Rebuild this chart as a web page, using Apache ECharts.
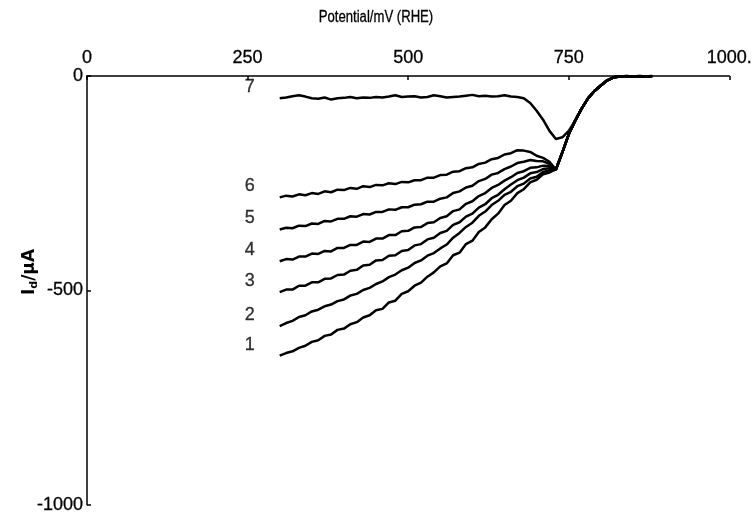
<!DOCTYPE html>
<html>
<head>
<meta charset="utf-8">
<script src="https://cdn.jsdelivr.net/npm/echarts@6/dist/echarts.min.js"></script>
<style>
  html, body { margin: 0; padding: 0; background: #fff; }
  #chart { width: 755px; height: 514px; }
</style>
</head>
<body>
<div id="chart"></div>
<script>
// Potential sweep (mV vs RHE) up to the point where the curves merge
const potentials = [300, 310, 320, 330, 340, 350, 360, 370, 380, 390,
  400, 410, 420, 430, 440, 450, 460, 470, 480, 490,
  500, 510, 520, 530, 540, 550, 560, 570, 580, 590,
  600, 610, 620, 630, 640, 650, 660, 670, 680, 690,
  700, 710, 720];

// Shared anodic branch after the curves merge
const tailPotentials = [730, 740, 750, 760, 770, 780, 790, 800, 810, 820, 830, 840, 850, 860, 870, 880];
const tailCurrent = [-218, -178, -136, -104, -76, -52, -35, -22, -10, -3, -1, 0, -1, 0, -1, 0];

// Disk current I_d (µA), curves 1..6
const curve1 = [-652, -646, -642, -634, -629, -620, -616, -606, -603, -592,
  -589, -579, -574, -563, -558, -546, -543, -528, -524, -508,
  -502, -489, -482, -468, -458, -444, -437, -418, -412, -392,
  -384, -364, -353, -334, -321, -301, -291, -273, -264, -248,
  -242, -229, -225];
const curve2 = [-583, -576, -571, -562, -558, -549, -545, -537, -533, -525,
  -521, -512, -508, -499, -494, -485, -479, -469, -463, -453,
  -447, -436, -430, -419, -413, -402, -393, -377, -366, -352,
  -342, -326, -316, -301, -291, -277, -270, -257, -251, -239,
  -235, -224, -220];
const curve3 = [-504, -498, -498, -489, -489, -481, -481, -473, -472, -464,
  -463, -454, -452, -442, -440, -430, -429, -419, -418, -408,
  -406, -395, -392, -381, -377, -366, -361, -347, -341, -328,
  -321, -307, -299, -285, -277, -264, -253, -243, -237, -227,
  -224, -217, -215];
const curve4 = [-432, -427, -428, -421, -421, -414, -415, -408, -409, -401,
  -401, -394, -394, -386, -387, -379, -379, -371, -371, -362,
  -361, -353, -352, -343, -341, -331, -327, -315, -311, -298,
  -292, -280, -273, -261, -254, -244, -236, -226, -222, -214,
  -213, -209, -210];
const curve5 = [-358, -354, -355, -349, -350, -344, -345, -338, -339, -333,
  -333, -327, -328, -322, -323, -317, -317, -311, -312, -306,
  -306, -300, -299, -293, -293, -286, -283, -273, -269, -260,
  -256, -245, -240, -230, -226, -217, -211, -203, -200, -196,
  -198, -199, -205];
const curve6 = [-283, -279, -281, -276, -278, -273, -275, -269, -271, -265,
  -266, -261, -263, -257, -259, -254, -255, -250, -252, -247,
  -248, -243, -243, -237, -237, -231, -230, -223, -222, -215,
  -213, -205, -202, -194, -191, -183, -180, -173, -174, -177,
  -186, -191, -200];
// Curve 7 with its reduction dip before joining the shared branch
const curve7 = [-52, -50, -47, -45, -48, -52, -53, -50, -55, -52,
  -51, -49, -52, -50, -51, -49, -50, -48, -45, -49,
  -48, -47, -50, -49, -45, -47, -50, -49, -48, -46,
  -44, -47, -46, -48, -47, -45, -48, -49, -52, -63,
  -81, -102, -128];
const curve7TailHead = [-147, -143, -128];

const curveNames = ['1', '2', '3', '4', '5', '6', '7'];
const xTicks = ['0', '250', '500', '750', '1000.'];

function buildPoints(values, tailHead) {
  const pts = potentials.map((p, i) => [p, values[i]]);
  tailPotentials.forEach((p, i) => {
    const v = (tailHead && i < tailHead.length) ? tailHead[i] : tailCurrent[i];
    pts.push([p, v]);
  });
  return pts;
}

const allCurves = [curve1, curve2, curve3, curve4, curve5, curve6, curve7];
const font = 'Liberation Sans';

const series = allCurves.map((vals, k) => ({
  name: curveNames[k],
  type: 'line',
  data: buildPoints(vals, k === 6 ? curve7TailHead : null),
  showSymbol: false,
  symbol: 'none',
  lineStyle: { color: '#000', width: 2.5 },
  z: 3,
  animation: false
}));

// Curve numbers next to the start of each trace
series.push({
  type: 'scatter',
  symbolSize: 0,
  data: allCurves.map((vals, k) => ({ value: [potentials[0], vals[0]], name: curveNames[k] })),
  label: {
    show: true,
    position: 'left',
    distance: 25,
    offset: [0, -11],
    formatter: p => p.name,
    color: '#000',
    fontFamily: font,
    fontSize: 18,
    textBorderColor: '#000',
    textBorderWidth: 0.3
  },
  silent: true,
  animation: false
});

const chart = echarts.init(document.getElementById('chart'), null, { renderer: 'canvas' });
chart.setOption({
  backgroundColor: '#fff',
  animation: false,
  grid: { left: 87, right: 24, top: 76, bottom: 7, containLabel: false },
  xAxis: {
    type: 'value',
    position: 'top',
    min: 0, max: 1000, interval: 250,
    axisLine: { show: true, onZero: false, lineStyle: { color: '#000', width: 1.5 } },
    axisTick: { show: true, inside: true, length: 4, lineStyle: { color: '#000', width: 1.5 } },
    axisLabel: {
      color: '#000', fontFamily: font, fontSize: 18, margin: 9,
      textBorderColor: '#000', textBorderWidth: 0.3,
      formatter: v => xTicks[Math.round(v / 250)]
    },
    splitLine: { show: false }
  },
  yAxis: {
    type: 'value',
    min: -1000, max: 0, interval: 500,
    axisLine: { show: true, onZero: false, lineStyle: { color: '#000', width: 1.5 } },
    axisTick: { show: true, inside: true, length: 4, lineStyle: { color: '#000', width: 1.5 } },
    axisLabel: {
      color: '#000', fontFamily: font, fontSize: 18, margin: 4,
      textBorderColor: '#000', textBorderWidth: 0.3,
      formatter: v => String(v)
    },
    splitLine: { show: false }
  },
  graphic: [
    {
      type: 'text',
      x: 376, y: 18,
      scaleX: 0.82,
      style: {
        text: 'Potential/mV (RHE)', fill: '#000',
        stroke: '#000', lineWidth: 0.3,
        font: '16px "Liberation Sans"', align: 'center', verticalAlign: 'middle'
      }
    },
    {
      type: 'text',
      x: 30, y: 272,
      rotation: Math.PI / 2,
      style: {
        text: '{a|I}{b|d}{a|/µA}',
        align: 'center', verticalAlign: 'middle',
        rich: {
          a: { fill: '#000', fontFamily: 'DejaVu Sans', fontWeight: 'bold', fontSize: 17 },
          b: { fill: '#000', fontFamily: 'DejaVu Sans', fontWeight: 'bold', fontSize: 11, padding: [8, 0, 0, 0] }
        }
      }
    }
  ],
  series: series
});
</script>
</body>
</html>
